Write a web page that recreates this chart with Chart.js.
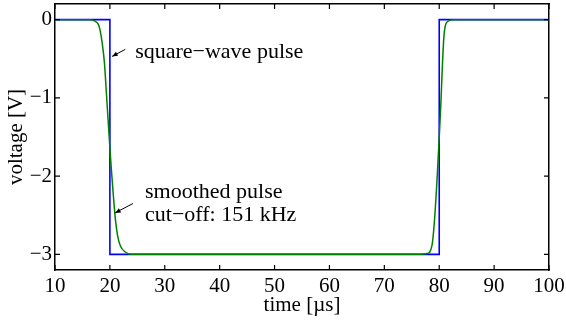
<!DOCTYPE html>
<html>
<head>
<meta charset="utf-8">
<script src="https://cdn.jsdelivr.net/npm/chart.js@4/dist/chart.umd.min.js"></script>
<style>
  html, body { margin: 0; padding: 0; background: #fff; }
  canvas { display: block; }
</style>
</head>
<body>
<canvas id="pulseChart" width="566" height="320"></canvas>
<script>
"use strict";

//* data
var squareTime    = [10, 20, 20, 80, 80, 100];
var squareVoltage = [0, 0, -3, -3, 0, 0];

var smoothTime    = [10, 16.4, 17.3, 17.9, 18.2, 18.6, 19.0, 19.4, 19.8, 20.2, 20.6, 21.0, 21.4, 21.9, 22.8, 24.0,
                     76.5, 77.8, 78.7, 79.1, 79.6, 80.0, 80.3, 80.6, 80.85, 81.1, 81.6, 82.6, 100];
var smoothVoltage = [0, 0, -0.02, -0.06, -0.13, -0.30, -0.55, -0.98, -1.42, -1.85, -2.22, -2.55, -2.76, -2.89, -2.97, -3.0,
                     -3.0, -2.99, -2.88, -2.6, -2.05, -1.5, -1.07, -0.55, -0.22, -0.08, -0.02, 0, 0];

var xTicks = [10, 20, 30, 40, 50, 60, 70, 80, 90, 100];
var yTicks = [-3, -2, -1, 0];

function toPoints(xs, ys) {
    return xs.map(function(x, i) { return {x: x, y: ys[i]}; });
}

function minusSign(v) {
    return String(v).replace('-', '\u2212');
}

var serif = 'Liberation Serif';
Chart.defaults.font.family = serif;
Chart.defaults.color = '#000';

/*--------------- inward ticks on all four sides ---------------*/
var innerTicks = {
    id: 'innerTicks',
    afterDraw: function(chart) {
        var ctx = chart.ctx, a = chart.chartArea;
        var sx = chart.scales.x, sy = chart.scales.y;
        var len = 5;
        ctx.save();
        ctx.strokeStyle = '#000';
        ctx.lineWidth = 1.2;
        ctx.beginPath();
        xTicks.forEach(function(t) {
            var px = sx.getPixelForValue(t);
            ctx.moveTo(px, a.bottom); ctx.lineTo(px, a.bottom - len);
            ctx.moveTo(px, a.top);    ctx.lineTo(px, a.top + len);
        });
        yTicks.forEach(function(t) {
            var py = sy.getPixelForValue(t);
            ctx.moveTo(a.left, py);  ctx.lineTo(a.left + len, py);
            ctx.moveTo(a.right, py); ctx.lineTo(a.right - len, py);
        });
        ctx.stroke();
        ctx.restore();
    }
};

/*--------------- text labels with arrows ---------------*/
var notes = [
    {lines: ['square\u2212wave pulse'], tx: 24.6, ty: -0.41, from: [22.8, -0.38], to: [20.4, -0.47]},
    {lines: ['smoothed pulse', 'cut\u2212off: 151 kHz'], tx: 26.4, ty: -2.21, from: [24.2, -2.35], to: [20.95, -2.47]}
];

var annotate = {
    id: 'annotate',
    afterDraw: function(chart) {
        var ctx = chart.ctx;
        var sx = chart.scales.x, sy = chart.scales.y;
        ctx.save();
        ctx.fillStyle = '#000';
        ctx.strokeStyle = '#000';
        ctx.font = '22px "' + serif + '"';
        ctx.textBaseline = 'middle';
        ctx.textAlign = 'left';
        notes.forEach(function(n) {
            var x = sx.getPixelForValue(n.tx), y = sy.getPixelForValue(n.ty);
            n.lines.forEach(function(s, i) { ctx.fillText(s, x, y + i * 23); });

            var x0 = sx.getPixelForValue(n.from[0]), y0 = sy.getPixelForValue(n.from[1]);
            var x1 = sx.getPixelForValue(n.to[0]),   y1 = sy.getPixelForValue(n.to[1]);
            var ang = Math.atan2(y1 - y0, x1 - x0), h = 6;
            ctx.lineWidth = 1;
            ctx.beginPath();
            ctx.moveTo(x0, y0); ctx.lineTo(x1, y1);
            ctx.stroke();
            ctx.beginPath();
            ctx.moveTo(x1, y1);
            ctx.lineTo(x1 - h * Math.cos(ang - 0.4), y1 - h * Math.sin(ang - 0.4));
            ctx.lineTo(x1 - h * Math.cos(ang + 0.4), y1 - h * Math.sin(ang + 0.4));
            ctx.closePath();
            ctx.fill();
        });
        ctx.restore();
    }
};

var frame = {display: true, color: '#000', width: 1.5};

function noPad(s) {
    s.paddingTop = 0; s.paddingBottom = 0; s.paddingLeft = 0; s.paddingRight = 0;
}

var ctx = document.getElementById('pulseChart').getContext('2d');
var pulseChart = new Chart(ctx, {
    type: 'line',
    data: {
        datasets: [{
            label: 'smoothed pulse',
            data: toPoints(smoothTime, smoothVoltage),
            borderColor: '#008000',
            borderWidth: 1.5,
            pointRadius: 0,
            cubicInterpolationMode: 'monotone',
            fill: false
        }, {
            label: 'square-wave pulse',
            data: toPoints(squareTime, squareVoltage),
            borderColor: '#0000ff',
            borderWidth: 1.6,
            pointRadius: 0,
            tension: 0,
            fill: false
        }]
    },
    options: {
        responsive: false,
        animation: false,
        layout: { padding: {top: 4, right: 17, left: 0, bottom: 0} },
        plugins: { legend: { display: false }, tooltip: { enabled: false } },
        scales: {
            x: {
                type: 'linear', position: 'bottom', min: 10, max: 100,
                afterBuildTicks: function(s) { s.ticks = xTicks.map(function(v) { return {value: v}; }); },
                afterFit: function(s) { s.height = 50; noPad(s); },
                ticks: { font: {size: 21}, padding: 4, maxRotation: 0, callback: minusSign },
                grid: { display: false, drawTicks: false },
                border: frame,
                title: { display: true, text: 'time [\u00b5s]', font: {size: 21}, padding: {top: 0, bottom: 2} }
            },
            y: {
                type: 'linear', position: 'left', min: -3.2, max: 0.2,
                afterBuildTicks: function(s) { s.ticks = yTicks.map(function(v) { return {value: v}; }); },
                afterFit: function(s) { s.width = 55; noPad(s); },
                ticks: { font: {size: 21}, padding: 3, callback: minusSign },
                grid: { display: false, drawTicks: false },
                border: frame,
                title: { display: true, text: 'voltage [V]', font: {size: 21}, padding: {top: 4, bottom: 0} }
            },
            x2: {
                type: 'linear', position: 'top', min: 10, max: 100,
                afterFit: function(s) { s.height = 0; noPad(s); },
                ticks: { display: false }, grid: { display: false, drawTicks: false }, border: frame
            },
            y2: {
                type: 'linear', position: 'right', min: -3.2, max: 0.2,
                afterFit: function(s) { s.width = 0; noPad(s); },
                ticks: { display: false }, grid: { display: false, drawTicks: false }, border: frame
            }
        }
    },
    plugins: [innerTicks, annotate]
});
</script>
</body>
</html>
